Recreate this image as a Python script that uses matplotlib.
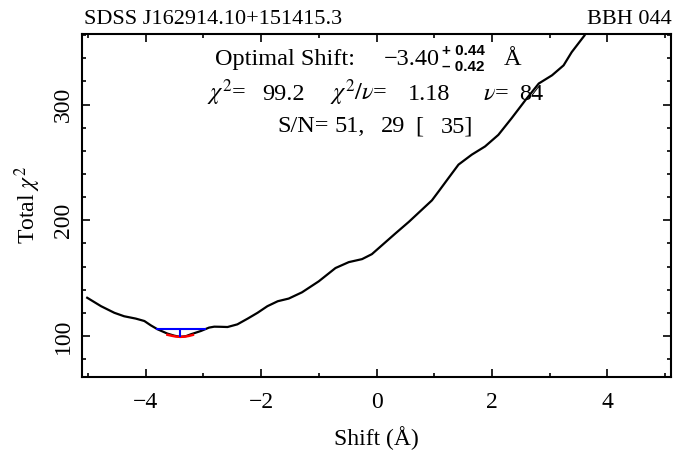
import matplotlib
matplotlib.use("Agg")
from matplotlib import pyplot as plt
from matplotlib.ticker import MultipleLocator

plt.rcParams["font.family"] = ["Liberation Serif", "DejaVu Serif"]
plt.rcParams["mathtext.fontset"] = "stix"

# chi-square curve vs. shift
shift = [-5.01, -4.77, -4.54, -4.37, -4.17, -4.02, -3.91, -3.79, -3.62, -3.50,
         -3.40, -3.30, -3.21, -3.04, -2.90, -2.81, -2.70, -2.58, -2.41, -2.23,
         -2.06, -1.89, -1.71, -1.52, -1.29, -1.00, -0.71, -0.48, -0.25, -0.08,
         0.10, 0.33, 0.56, 0.79, 0.96, 1.08, 1.25, 1.42, 1.65, 1.88,
         2.11, 2.34, 2.58, 2.81, 3.04, 3.24, 3.38, 3.60, 3.70]
chi2 = [133.0, 125.7, 120.0, 117.0, 115.0, 112.9, 109.2, 105.7, 102.0, 100.2,
        99.2, 99.8, 101.5, 104.3, 107.2, 108.0, 107.9, 107.7, 110.0, 115.0,
        120.0, 125.7, 130.0, 132.3, 137.7, 147.2, 158.7, 163.8, 166.4, 170.7,
        178.6, 188.7, 198.6, 209.3, 217.2, 225.2, 236.7, 248.1, 256.7, 263.8,
        273.8, 288.2, 303.9, 318.2, 325.3, 333.9, 345.3, 359.6, 368.0]

# parabola fit around the minimum
fit_shift = [-3.62, -3.55, -3.48, -3.40, -3.32, -3.25, -3.18]
fit_chi2 = [101.0, 100.2, 99.5, 99.2, 99.4, 100.0, 100.9]

best_shift = -3.40
err_minus = 0.42
err_plus = 0.44
chi2_min = 99.2
chi2_level = 105.8
dof = 84
sn = [51, 29, 35]


def px(x, y):
    # figure fraction from pixel position (origin top-left)
    return x / 677, 1 - y / 451


def label(x, y, s, size=17.5, **kw):
    fig.text(*px(x, y), s, fontsize=size, ha=kw.pop("ha", "left"), va="baseline", **kw)


fig = plt.figure(figsize=(6.77, 4.51), dpi=100)
ax = fig.add_axes([82 / 677, 1 - 377 / 451, 589 / 677, 343 / 451])

ax.plot(shift, chi2, color="black", lw=1.6)
ax.plot(fit_shift, fit_chi2, color="red", lw=1.8)
ax.hlines(chi2_level, best_shift - err_minus, best_shift + err_plus, color="blue", lw=1.5)
ax.vlines(best_shift, chi2_min, chi2_level, color="blue", lw=1.5)

ax.set_xlim(-5.1, 5.1)
ax.set_ylim(64.5, 361)
ax.xaxis.set_major_locator(MultipleLocator(2))
ax.xaxis.set_minor_locator(MultipleLocator(1))
ax.yaxis.set_major_locator(MultipleLocator(100))
ax.yaxis.set_minor_locator(MultipleLocator(20))
ax.tick_params(which="both", direction="in", top=True, right=True, width=1.2)
ax.tick_params(which="major", length=6, labelsize=17)
ax.tick_params(axis="x", which="major", pad=11)
ax.tick_params(axis="y", which="major", pad=6)
ax.tick_params(which="minor", length=3)
for lab in ax.get_yticklabels():
    lab.set_rotation(90)
    lab.set_va("center")
for sp in ax.spines.values():
    sp.set_linewidth(1.5)

ax.set_xlabel("Shift (Å)", fontsize=17, labelpad=9)
ax.set_ylabel(r"Total $\chi^2$", fontsize=17, labelpad=7)

label(84, 24, "SDSS J162914.10+151415.3", 16)
label(672, 24, "BBH 044", 16, ha="right")

# best shift with asymmetric errors
label(215, 65, "Optimal Shift:")
label(440, 65, "\u2212%.2f" % abs(best_shift), ha="right")
label(442, 55, "+ %.2f" % err_plus, 11, fontweight="bold", family="Liberation Sans")
label(442, 71, "\u2013 %.2f" % err_minus, 11, fontweight="bold", family="Liberation Sans")
label(504, 65, "Å")

# fit statistics
label(207, 100, r"$\chi^2$=")
label(305, 100, "%.1f" % chi2_min, ha="right")
label(330, 100, r"$\chi^2/\nu$=")
label(450, 100, "%.2f" % (chi2_min / dof), ha="right")
label(483, 100, r"$\nu$=")
label(543, 100, "%d" % dof, ha="right")

label(277, 132, "S/N=")
label(335, 132, "%d," % sn[0])
label(381, 132, "%d" % sn[1])
label(415, 132, "[")
label(473, 132, "%d]" % sn[2], ha="right")

fig.savefig("out.png", dpi=100)
